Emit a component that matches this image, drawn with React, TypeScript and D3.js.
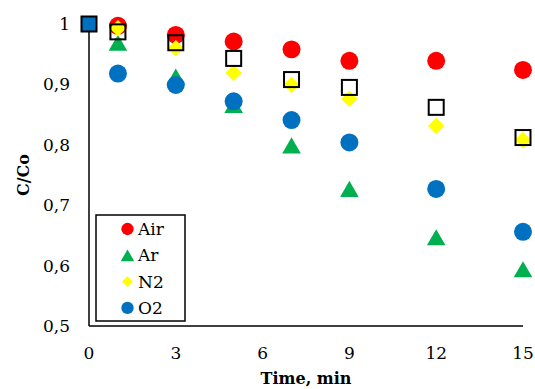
import React from "react";
import * as d3 from "d3";

const times = [1, 3, 5, 7, 9, 12, 15];
const airValues = [0.997, 0.982, 0.971, 0.958, 0.939, 0.939, 0.924];
const arValues = [0.969, 0.913, 0.866, 0.799, 0.727, 0.647, 0.594];
const n2Values = [0.993, 0.96, 0.919, 0.899, 0.876, 0.831, 0.808];
const o2Values = [0.918, 0.899, 0.872, 0.841, 0.804, 0.727, 0.656];
const refValues = [0.987, 0.969, 0.943, 0.908, 0.895, 0.862, 0.812];
const startTime = [0];
const startValue = [1];
const xTicks = [0, 3, 6, 9, 12, 15];
const yTicks = [0.5, 0.6, 0.7, 0.8, 0.9, 1];
const legendLabels = ["Air", "Ar", "N2", "O2"];

const W = 535, H = 389;
const FONT = "'DejaVu Serif', serif";

export default function App() {
  const x = d3.scaleLinear().domain([0, 15]).range([89, 523]);
  const y = d3.scaleLinear().domain([0.5, 1]).range([326, 24]);
  const sym = (type: any, size: number) => d3.symbol().type(type).size(size)() as string;
  const circle = sym(d3.symbolCircle, 254);
  const tri = sym(d3.symbolTriangle, 150);
  const diamond = sym(d3.symbolSquare, 135);
  const fmt = (v: number) => (v === 1 ? "1" : v.toFixed(1).replace(".", ","));

  const series = [
    { vals: airValues, path: circle, fill: "#FF0000", dy: 0, rot: 0 },
    { vals: arValues, path: tri, fill: "#00B050", dy: 2.7, rot: 0 },
    { vals: n2Values, path: diamond, fill: "#FFFF00", dy: 0, rot: 45 },
    { vals: o2Values, path: circle, fill: "#0070C0", dy: 0, rot: 0 },
  ];
  const legendMarks = [
    { path: sym(d3.symbolCircle, 120), fill: "#FF0000", dy: 0, rot: 0 },
    { path: sym(d3.symbolTriangle, 80), fill: "#00B050", dy: 2, rot: 0 },
    { path: sym(d3.symbolSquare, 64), fill: "#FFFF00", dy: 0, rot: 45 },
    { path: sym(d3.symbolCircle, 120), fill: "#0070C0", dy: 0, rot: 0 },
  ];

  return (
    <svg width={W} height={H} style={{ position: "absolute", left: 0, top: 0, background: "#fff" }} fontFamily={FONT}>
      <rect width={W} height={H} fill="#fff" />
      {yTicks.map((t) => (
        <text key={t} x={70} y={y(t)} dy="0.35em" textAnchor="end" fontSize={17}>{fmt(t)}</text>
      ))}
      {xTicks.map((t) => (
        <text key={t} x={x(t)} y={353} dy="0.35em" textAnchor="middle" fontSize={17}>{t}</text>
      ))}
      <line x1={x(0)} x2={x(0)} y1={y(1)} y2={y(0.5)} stroke="#000" strokeWidth={1.5} />
      <line x1={x(0)} x2={x(15)} y1={y(0.5)} y2={y(0.5)} stroke="#000" strokeWidth={1.5} />
      <text x={x(7.5)} y={378} dy="0.35em" textAnchor="middle" fontSize={16} fontWeight="bold">Time, min</text>
      <text transform={`translate(23,${(y(1) + y(0.5)) / 2}) rotate(-90)`} dy="0.35em" textAnchor="middle" fontSize={16} fontWeight="bold">C/Co</text>
      {series.map((s, i) => (
        <g key={i}>
          {times.map((t, j) => (
            <path key={j} d={s.path} fill={s.fill} transform={`translate(${x(t)},${y(s.vals[j]) + s.dy}) rotate(${s.rot})`} />
          ))}
        </g>
      ))}
      {times.map((t, j) => (
        <rect key={j} x={x(t) - 7.5} y={y(refValues[j]) - 7.5} width={15} height={15} fill="none" stroke="#000" strokeWidth={2} />
      ))}
      {startTime.map((t, j) => (
        <rect key={j} x={x(t) - 7.5} y={y(startValue[j]) - 7.5} width={15} height={15} fill="#0070C0" stroke="#000" strokeWidth={2} />
      ))}
      <rect x={96} y={215} width={89} height={106} fill="#fff" stroke="#000" strokeWidth={1.5} />
      {legendLabels.map((l, i) => {
        const ly = 229 + i * 26.3;
        const m = legendMarks[i];
        return (
          <g key={l}>
            <path d={m.path} fill={m.fill} transform={`translate(127.5,${ly + m.dy}) rotate(${m.rot})`} />
            <text x={138} y={ly} dy="0.35em" fontSize={17}>{l}</text>
          </g>
        );
      })}
    </svg>
  );
}
